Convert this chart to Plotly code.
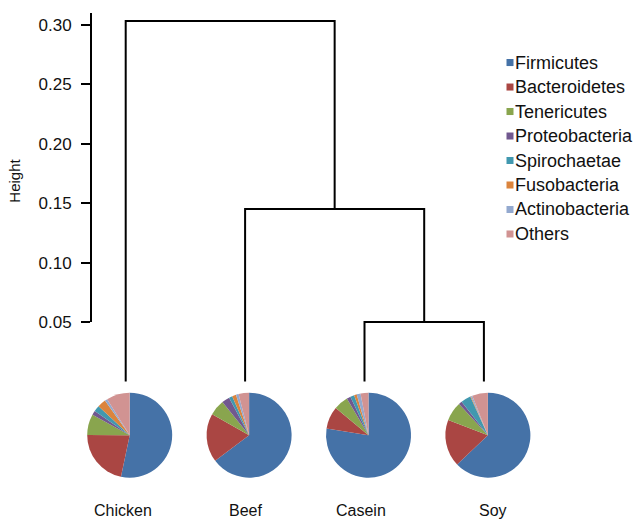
import plotly.graph_objects as go

# ---------------- data ----------------
samples = ["Chicken", "Beef", "Casein", "Soy"]          # leaf order
leaf_pos = [1, 2, 3, 4]
# merges: (left child, right child, height); children index leaves (0..3) or earlier merges ("m0", ...)
merges = [(2, 3, 0.050), (1, "m0", 0.145), (0, "m1", 0.303)]

phyla = ["Firmicutes", "Bacteroidetes", "Tenericutes", "Proteobacteria",
         "Spirochaetae", "Fusobacteria", "Actinobacteria", "Others"]
colors = ["#4572A7", "#AA4643", "#89A54E", "#71588F",
          "#4198AF", "#DB843D", "#93A9CF", "#D19392"]
chicken = [53.3, 21.8, 7.9, 1.6, 2.3, 3.2, 1.0, 8.9]
beef = [64.7, 18.5, 6.0, 3.0, 1.3, 1.5, 1.0, 4.0]
casein = [77.5, 8.5, 5.5, 1.5, 1.5, 1.0, 1.5, 3.0]
soy = [62.9, 17.9, 7.3, 1.3, 3.8, 0.3, 0.5, 6.0]
pie_values = [chicken, beef, casein, soy]

y_ticks = [0.05, 0.10, 0.15, 0.20, 0.25, 0.30]

# ---------------- layout geometry ----------------
W, H = 638, 524          # reference canvas (coordinates below are in these pixels)
HF = 536                 # rendered figure height
X0, X1 = -0.0528, 5.2906
YMIN, YMAX = (380 - 524) / 1185, 380 / 1185
FONT = "Liberation Sans, Arial, Helvetica, sans-serif"


def px_x(x):
    return (x - X0) / (X1 - X0) * W


# ---------------- dendrogram segments ----------------
node = {}
for i, p in enumerate(leaf_pos):
    node[i] = (p, 0.0)
xs, ys = [], []
for k, (a, b, h) in enumerate(merges):
    xa, ha = node[a]
    xb, hb = node[b]
    xs += [xa, xa, xb, xb, None]
    ys += [ha, h, h, hb, None]
    node["m%d" % k] = ((xa + xb) / 2, h)

fig = go.Figure()
fig.add_trace(go.Scatter(x=xs, y=ys, mode="lines",
                         line=dict(color="black", width=2),
                         hoverinfo="skip", showlegend=False,
                         xaxis="x", yaxis="y", cliponaxis=False))
# dummy trace so the visible height axis is drawn
fig.add_trace(go.Scatter(x=[None], y=[None], mode="markers",
                         showlegend=False, xaxis="x", yaxis="y2"))

# ---------------- pies ----------------
R = 42.5
PY = 433.5
for name, p, vals in zip(samples, leaf_pos, pie_values):
    cx = px_x(p) + 4
    fig.add_trace(go.Pie(
        labels=phyla, values=vals, sort=False, direction="clockwise",
        rotation=0, textinfo="none", hoverinfo="label+percent",
        marker=dict(colors=colors, line=dict(width=0)),
        showlegend=False, name=name,
        domain=dict(x=[(cx - R) / W, (cx + R) / W],
                    y=[1 - (PY + R) / H, 1 - (PY - R) / H])))

annotations = []
# sample labels
label_shift = [-3, 0, -4, 9]
for name, p, sh in zip(samples, leaf_pos, label_shift):
    annotations.append(dict(x=p, y=1 - 509 / H, xref="x", yref="paper",
                            text=name, showarrow=False, xshift=sh,
                            xanchor="center", yanchor="middle",
                            font=dict(family=FONT, size=16, color="#111")))
# y-axis title
annotations.append(dict(x=15 / W, y=1 - 180 / H, xref="paper", yref="paper",
                        text="Height", textangle=-90, showarrow=False,
                        xanchor="center", yanchor="middle",
                        font=dict(family=FONT, size=15, color="#111")))
# custom legend
shapes = []
for i, (lab, col) in enumerate(zip(phyla, colors)):
    cy = 62.3 + 24.4 * i
    shapes.append(dict(type="rect", xref="paper", yref="paper",
                       x0=506.5 / W, x1=513.5 / W,
                       y0=1 - (cy + 3.5) / H, y1=1 - (cy - 3.5) / H,
                       fillcolor=col, line=dict(width=0)))
    annotations.append(dict(x=513 / W, y=1 - cy / H, xref="paper", yref="paper",
                            text=lab, showarrow=False,
                            xanchor="left", yanchor="middle",
                            font=dict(family=FONT, size=18, color="#111")))

fig.update_layout(
    width=W, height=HF, autosize=False,
    margin=dict(l=0, r=0, t=0, b=0),
    paper_bgcolor="white", plot_bgcolor="rgba(0,0,0,0)",
    xaxis=dict(range=[X0, X1], domain=[0, 1], visible=False, fixedrange=True),
    yaxis=dict(range=[YMIN, YMAX], domain=[0, 1], visible=False, fixedrange=True),
    yaxis2=dict(range=[0.05, 0.05 + 308 / 1185],
                domain=[1 - 321 / H, 1 - 13 / H],
                anchor="free", position=91 / W,
                showline=True, linecolor="black", linewidth=2,
                ticks="outside", ticklen=9, tickwidth=2, tickcolor="black",
                tickvals=y_ticks, ticktext=["%.2f" % v for v in y_ticks],
                ticklabelstandoff=6,
                tickfont=dict(family=FONT, size=17, color="#111"),
                showgrid=False, zeroline=False, fixedrange=True),
    annotations=annotations, shapes=shapes,
    showlegend=False,
)

post = """
var de = document.documentElement, b = document.body;
de.style.margin = '0'; de.style.padding = '0'; de.style.overflow = 'hidden';
b.style.margin = '0'; b.style.padding = '0'; b.style.overflow = 'hidden';
"""
fig.write_html("out.html", config={"displayModeBar": False}, post_script=post)
